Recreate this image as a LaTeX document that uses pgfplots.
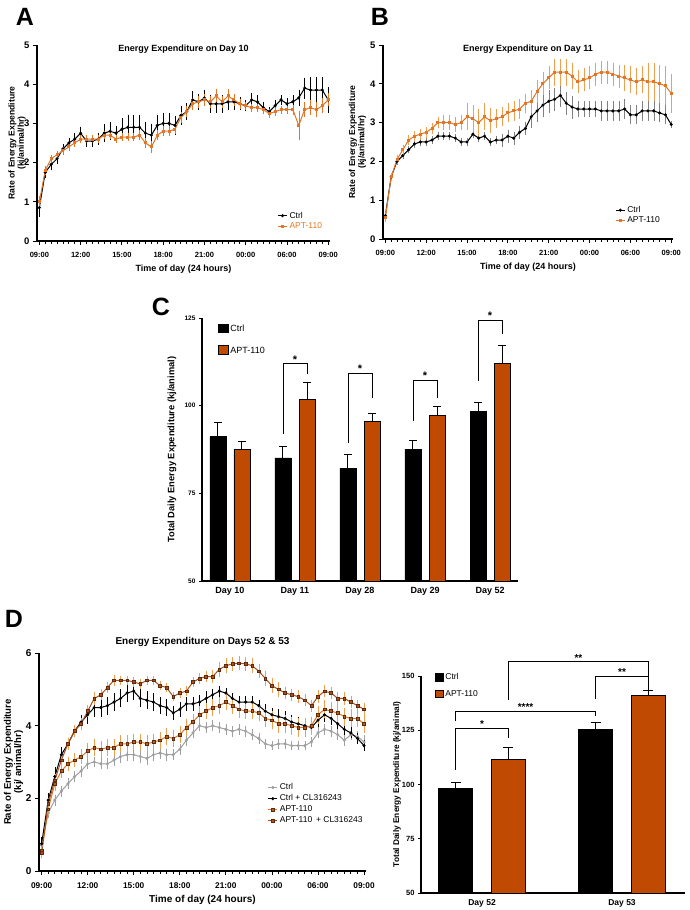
\documentclass[border=0pt]{standalone}
\usepackage{fontspec}
\setmainfont{Liberation Sans}
\usepackage{pgfplots}
\usepackage{pgfplotstable}
\pgfplotsset{compat=1.18}
\definecolor{aptline}{RGB}{226,118,38}
\definecolor{aptbar}{RGB}{192,74,2}
\definecolor{aptdark}{RGB}{95,42,12}
\definecolor{apterr}{RGB}{238,160,80}
\definecolor{ctrlgray}{RGB}{160,160,160}
\definecolor{apttwo}{RGB}{170,78,30}

\pgfplotstableread{
i cy ce ay ae
0 0.85 0.18 1.00 0.10
1 1.75 0.10 1.80 0.06
2 1.95 0.10 2.10 0.06
3 2.10 0.10 2.20 0.06
4 2.35 0.08 2.30 0.05
5 2.50 0.08 2.40 0.05
6 2.60 0.10 2.50 0.06
7 2.75 0.12 2.60 0.06
8 2.55 0.10 2.60 0.06
9 2.55 0.10 2.60 0.06
10 2.60 0.10 2.60 0.06
11 2.75 0.18 2.70 0.06
12 2.80 0.18 2.70 0.06
13 2.75 0.15 2.60 0.06
14 2.85 0.25 2.65 0.06
15 2.90 0.28 2.65 0.06
16 2.90 0.28 2.65 0.06
17 2.90 0.28 2.70 0.08
18 2.75 0.25 2.50 0.08
19 2.70 0.25 2.40 0.10
20 2.95 0.22 2.70 0.08
21 3.00 0.22 2.80 0.08
22 3.00 0.22 2.80 0.08
23 2.95 0.20 2.85 0.08
24 3.20 0.20 3.15 0.10
25 3.30 0.18 3.30 0.10
26 3.60 0.18 3.50 0.10
27 3.55 0.15 3.55 0.10
28 3.65 0.15 3.60 0.10
29 3.50 0.18 3.55 0.10
30 3.50 0.18 3.70 0.12
31 3.50 0.18 3.55 0.10
32 3.55 0.15 3.70 0.12
33 3.55 0.15 3.60 0.10
34 3.50 0.12 3.50 0.08
35 3.45 0.10 3.45 0.06
36 3.60 0.12 3.40 0.06
37 3.55 0.12 3.40 0.06
38 3.40 0.10 3.35 0.06
39 3.30 0.08 3.25 0.06
40 3.45 0.10 3.30 0.06
41 3.60 0.08 3.35 0.06
42 3.50 0.10 3.35 0.06
43 3.55 0.12 3.35 0.08
44 3.65 0.15 2.95 0.33
45 3.90 0.22 3.35 0.15
46 3.85 0.28 3.40 0.15
47 3.85 0.28 3.35 0.15
48 3.85 0.28 3.45 0.15
49 3.60 0.28 3.60 0.12
}\dA

\pgfplotstableread{
i cy ce ay ae
0 0.60 0.05 0.55 0.06
1 1.60 0.05 1.60 0.06
2 2.00 0.05 2.05 0.08
3 2.15 0.05 2.30 0.08
4 2.30 0.05 2.55 0.08
5 2.45 0.05 2.65 0.08
6 2.50 0.05 2.70 0.10
7 2.50 0.05 2.75 0.10
8 2.55 0.05 2.85 0.10
9 2.65 0.05 3.00 0.10
10 2.65 0.06 3.00 0.15
11 2.65 0.06 3.00 0.15
12 2.60 0.06 2.95 0.15
13 2.50 0.06 3.00 0.15
14 2.50 0.06 3.15 0.30
15 2.70 0.06 3.10 0.30
16 2.60 0.06 3.00 0.30
17 2.65 0.06 3.15 0.30
18 2.50 0.06 3.05 0.28
19 2.55 0.06 3.10 0.20
20 2.55 0.12 3.15 0.20
21 2.65 0.12 3.25 0.20
22 2.60 0.12 3.30 0.20
23 2.75 0.12 3.35 0.20
24 2.85 0.12 3.50 0.20
25 3.15 0.25 3.55 0.25
26 3.30 0.25 3.80 0.25
27 3.45 0.25 4.00 0.25
28 3.55 0.25 4.15 0.25
29 3.60 0.25 4.30 0.30
30 3.70 0.25 4.30 0.30
31 3.50 0.25 4.30 0.30
32 3.40 0.25 4.20 0.30
33 3.35 0.15 4.05 0.25
34 3.35 0.15 4.10 0.25
35 3.35 0.15 4.15 0.25
36 3.35 0.15 4.25 0.25
37 3.30 0.20 4.30 0.25
38 3.30 0.20 4.30 0.25
39 3.30 0.20 4.25 0.25
40 3.30 0.20 4.20 0.25
41 3.35 0.20 4.15 0.30
42 3.20 0.20 4.10 0.30
43 3.20 0.20 4.05 0.30
44 3.30 0.20 4.10 0.30
45 3.30 0.20 4.05 0.45
46 3.30 0.20 4.05 0.45
47 3.25 0.20 4.00 0.45
48 3.20 0.20 3.95 0.45
49 2.95 0.05 3.75 0.45
}\dB

\pgfplotstableread{
i gy ge ky ke ay ae by be
0 0.70 0.10 0.75 0.15 0.55 0.10 0.50 0.10
1 1.60 0.10 1.95 0.15 1.70 0.15 1.85 0.10
2 1.95 0.10 2.60 0.20 2.40 0.15 2.50 0.12
3 2.20 0.10 3.20 0.15 2.75 0.15 3.05 0.12
4 2.40 0.10 3.50 0.12 2.95 0.15 3.50 0.12
5 2.60 0.10 3.85 0.12 3.05 0.15 3.85 0.12
6 2.75 0.10 4.10 0.15 3.15 0.15 4.05 0.12
7 2.95 0.10 4.30 0.20 3.30 0.18 4.40 0.12
8 3.00 0.10 4.50 0.20 3.40 0.18 4.75 0.12
9 2.95 0.10 4.50 0.20 3.35 0.18 4.85 0.10
10 2.95 0.10 4.55 0.20 3.40 0.18 5.05 0.10
11 3.05 0.10 4.65 0.20 3.40 0.18 5.25 0.10
12 3.15 0.12 4.75 0.20 3.50 0.18 5.25 0.08
13 3.20 0.12 4.90 0.20 3.50 0.18 5.25 0.08
14 3.20 0.12 4.95 0.20 3.55 0.18 5.20 0.08
15 3.15 0.12 4.75 0.20 3.55 0.18 5.15 0.08
16 3.10 0.12 4.70 0.20 3.50 0.18 5.25 0.08
17 3.20 0.12 4.65 0.20 3.55 0.18 5.25 0.08
18 3.25 0.12 4.55 0.18 3.60 0.18 5.10 0.08
19 3.20 0.12 4.50 0.18 3.70 0.18 5.05 0.08
20 3.20 0.10 4.35 0.15 3.65 0.18 4.80 0.08
21 3.35 0.10 4.45 0.15 3.75 0.18 4.90 0.08
22 3.60 0.10 4.60 0.15 3.95 0.18 4.95 0.08
23 3.80 0.10 4.60 0.15 4.10 0.18 5.20 0.08
24 4.00 0.10 4.65 0.15 4.30 0.18 5.30 0.10
25 3.95 0.10 4.75 0.15 4.40 0.18 5.35 0.10
26 4.00 0.10 4.85 0.12 4.50 0.18 5.35 0.12
27 3.95 0.10 4.95 0.10 4.55 0.18 5.55 0.15
28 3.90 0.10 4.90 0.10 4.65 0.18 5.65 0.15
29 3.85 0.10 4.75 0.10 4.55 0.18 5.70 0.15
30 3.90 0.10 4.65 0.12 4.45 0.18 5.72 0.15
31 3.85 0.10 4.65 0.12 4.40 0.18 5.70 0.15
32 3.75 0.10 4.65 0.12 4.40 0.18 5.65 0.15
33 3.65 0.10 4.55 0.12 4.35 0.18 5.50 0.15
34 3.50 0.08 4.40 0.15 4.20 0.20 5.30 0.15
35 3.45 0.08 4.30 0.15 4.15 0.20 5.10 0.15
36 3.50 0.08 4.25 0.15 4.05 0.20 5.00 0.15
37 3.50 0.08 4.20 0.15 4.05 0.20 4.90 0.12
38 3.45 0.08 4.10 0.15 4.00 0.20 4.85 0.12
39 3.45 0.08 4.05 0.15 3.95 0.20 4.80 0.12
40 3.45 0.08 4.00 0.15 3.95 0.20 4.70 0.12
41 3.55 0.08 3.95 0.15 4.00 0.20 4.55 0.12
42 3.80 0.10 4.15 0.15 4.30 0.20 4.80 0.12
43 3.90 0.10 4.30 0.15 4.45 0.20 4.95 0.12
44 3.85 0.10 4.20 0.12 4.40 0.20 4.90 0.12
45 3.75 0.10 4.05 0.10 4.35 0.20 4.75 0.12
46 3.60 0.10 3.90 0.10 4.25 0.20 4.75 0.12
47 3.75 0.10 3.80 0.10 4.20 0.20 4.65 0.12
48 3.70 0.10 3.65 0.10 4.20 0.20 4.55 0.12
49 3.55 0.15 3.45 0.10 4.05 0.20 4.45 0.12
}\dD

\pgfplotsset{
  legend image code/.code={\draw[mark repeat=2,mark phase=2,#1] plot coordinates {(0pt,0pt) (4.5pt,0pt) (9pt,0pt)};},
  tsax/.style={
    scale only axis, axis lines=left, axis line style={-, line width=1.1pt},
    xmin=-0.4, xmax=49.3, ymin=0,
    xtick={0,7,14,21,28,35,42,49},
    xticklabels={09:00,12:00,15:00,18:00,21:00,00:00,06:00,09:00},
    minor xtick={0,...,49},
    tick align=outside, major tick length=4pt, minor tick length=3pt,
    tick style={black, line width=0.8pt},
    xticklabel style={font=\bfseries\fontsize{7.5}{8}\selectfont, yshift=-4pt},
    yticklabel style={font=\bfseries\fontsize{9.5}{10}\selectfont},
    /pgf/number format/assume math mode=true,
    xlabel={Time of day (24 hours)},
    xlabel style={font=\bfseries\fontsize{9}{10}\selectfont},
    ylabel style={font=\bfseries\fontsize{8.6}{9.2}\selectfont, align=center, anchor=center},
    title style={font=\bfseries\fontsize{9}{10}\selectfont},
    clip=false, legend cell align=left,
  },
  barax/.style={
    scale only axis, axis lines=left, axis line style={-, line width=1.1pt},
    tick align=outside, major tick length=3pt,
    x tick style={draw=none}, y tick style={black, line width=0.8pt},
    /pgf/number format/assume math mode=true,
    clip mode=individual, legend cell align=left,
  },
  cbar/.style={ybar, bar shift=0pt, draw=black, line width=0.8pt,
    error bars/.cd, y dir=plus, y explicit, error bar style={black, line width=1pt},
    error mark options={black, rotate=90, mark size=#1, line width=1pt}},
}

\begin{document}
\begin{tikzpicture}
\path[use as bounding box] (0pt,0pt) rectangle (689pt,910pt);

% ---------- A ----------
\begin{axis}[tsax, at={(37pt,669pt)}, anchor=south west, width=293pt, height=196pt,
  ymax=5, ytick={0,1,2,3,4,5},
  title={Energy Expenditure on Day 10}, title style={at={(0.5,0.985)}, anchor=center, yshift=-7pt},
  ylabel={Rate of Energy Expenditure\\(kj/animal/hr)},
  ylabel style={at={(rel axis cs:-0.068,0.5)}},
  legend style={draw=none, fill=none, at={(0.81,0.17)}, anchor=north west,
    font=\fontsize{8.5}{9}\selectfont, row sep=-1pt}]
\addplot[black, line width=1pt, mark=*, mark size=1pt,
  error bars/.cd, y dir=both, y explicit, error bar style={black, line width=0.5pt},
  error mark options={black, mark size=1.8pt, line width=0.5pt}]
  table[x=i, y=cy, y error=ce] {\dA};
\addlegendentry{Ctrl}
\addplot[aptline, line width=1pt, mark=square*, mark size=1pt,
  error bars/.cd, y dir=both, y explicit, error bar style={aptline, line width=0.5pt},
  error mark options={aptline, mark size=1.8pt, line width=0.5pt}]
  table[x=i, y=ay, y error=ae] {\dA};
\addlegendentry{\textcolor{aptline}{APT-110}}
\end{axis}

% ---------- B ----------
\begin{axis}[tsax, at={(383pt,671pt)}, anchor=south west, width=290pt, height=194pt,
  ymax=5, ytick={0,1,2,3,4,5},
  title={Energy Expenditure on Day 11}, title style={at={(0.5,0.985)}, anchor=center, yshift=-7pt},
  ylabel={Rate of Energy Expenditure\\(kj/animal/hr)},
  ylabel style={at={(rel axis cs:-0.088,0.5)}},
  legend style={draw=none, fill=none, at={(0.79,0.19)}, anchor=north west,
    font=\fontsize{8.5}{9}\selectfont, row sep=-1pt}]
\addplot[black, line width=1pt, mark=*, mark size=1pt,
  error bars/.cd, y dir=both, y explicit, error bar style={gray, line width=0.4pt},
  error mark options={gray, mark size=1.8pt, line width=0.4pt}]
  table[x=i, y=cy, y error=ce] {\dB};
\addlegendentry{Ctrl}
\addplot[aptline, line width=1pt, mark=square*, mark size=1pt,
  error bars/.cd, y dir=both, y explicit, error bar style={apterr, line width=0.4pt},
  error mark options={apterr, mark size=1.8pt, line width=0.4pt}]
  table[x=i, y=ay, y error=ae] {\dB};
\addlegendentry{APT-110}
\end{axis}

% ---------- C ----------
\begin{axis}[barax, at={(202pt,329pt)}, anchor=south west, width=316pt, height=263pt,
  xmin=-0.43, xmax=4.43, ymin=50, ymax=125,
  xtick={0,1,2,3,4}, xticklabels={Day 10,Day 11,Day 28,Day 29,Day 52},
  ytick={50,75,100,125},
  xticklabel style={font=\bfseries\fontsize{9}{10}\selectfont},
  yticklabel style={font=\bfseries\fontsize{6.5}{7}\selectfont},
  ylabel={Total Daily Energy Expenditure (kj/animal)},
  ylabel style={font=\bfseries\fontsize{9.3}{10}\selectfont, at={(rel axis cs:-0.095,0.5)}, anchor=center},
  legend style={draw=none, fill=none, at={(0.04,0.99)}, anchor=north west,
    font=\fontsize{9}{10}\selectfont, row sep=10pt}]
\addlegendimage{legend image code/.code={\draw[fill=black,draw=black] (0pt,-3.5pt) rectangle (10pt,5pt);}}
\addlegendentry{Ctrl}
\addlegendimage{legend image code/.code={\draw[fill=aptbar,draw=black,line width=0.6pt] (0pt,-3.5pt) rectangle (10pt,5pt);}}
\addlegendentry{APT-110}
\addplot[bar width=16pt, fill=black, cbar=4pt]
  coordinates {(-0.185,91.1) +- (0,4.1) (0.815,85.1) +- (0,3.3) (1.815,82.2) +- (0,3.8) (2.815,87.6) +- (0,2.5) (3.815,98.3) +- (0,2.7)};
\addplot[bar width=16pt, fill=aptbar, cbar=4pt]
  coordinates {(0.185,87.5) +- (0,2.2) (1.185,101.9) +- (0,4.8) (2.185,95.5) +- (0,2.2) (3.185,97.2) +- (0,2.7) (4.185,112.0) +- (0,5.1)};
\draw[line width=0.9pt] (axis cs:0.815,92) |- (axis cs:1.185,111.9) -- (axis cs:1.185,109.1);
\draw[line width=0.9pt] (axis cs:1.815,89.4) |- (axis cs:2.185,109.3) -- (axis cs:2.185,102.2);
\draw[line width=0.9pt] (axis cs:2.815,95.5) |- (axis cs:3.185,107.2) -- (axis cs:3.185,102.2);
\draw[line width=0.9pt] (axis cs:3.815,107) |- (axis cs:4.185,124.3) -- (axis cs:4.185,120.5);
\node[anchor=base, inner sep=0pt, font=\bfseries\fontsize{11}{11}\selectfont] at (axis cs:1,112.1) {*};
\node[anchor=base, inner sep=0pt, font=\bfseries\fontsize{11}{11}\selectfont] at (axis cs:2,109.5) {*};
\node[anchor=base, inner sep=0pt, font=\bfseries\fontsize{11}{11}\selectfont] at (axis cs:3,107.4) {*};
\node[anchor=base, inner sep=0pt, font=\bfseries\fontsize{11}{11}\selectfont] at (axis cs:4,124.5) {*};
\end{axis}

% ---------- D left ----------
\begin{axis}[tsax, at={(39pt,39pt)}, anchor=south west, width=327pt, height=218pt,
  ymax=6, ytick={0,2,4,6},
  title={Energy Expenditure on Days 52 \& 53}, title style={at={(0.5,1)}, anchor=center, yshift=5pt, font=\bfseries\fontsize{10}{11}\selectfont},
  ylabel={Rate of Energy Expenditure\\(kj/ animal/hr)},
  ylabel style={font=\bfseries\fontsize{9.6}{10.2}\selectfont, at={(rel axis cs:-0.078,0.5)}},
  xlabel style={font=\bfseries\fontsize{10}{11}\selectfont},
  xticklabel style={font=\bfseries\fontsize{8.3}{9}\selectfont},
  yticklabel style={font=\bfseries\fontsize{10}{11}\selectfont},
  legend style={draw=none, fill=none, at={(0.69,0.42)}, anchor=north west,
    font=\fontsize{8.5}{9}\selectfont, row sep=-0.5pt}]
\addplot[ctrlgray, line width=1pt, mark=*, mark size=1pt,
  error bars/.cd, y dir=both, y explicit, error bar style={ctrlgray, line width=0.5pt},
  error mark options={ctrlgray, mark size=1.8pt, line width=0.5pt}]
  table[x=i, y=gy, y error=ge] {\dD};
\addlegendentry{Ctrl}
\addplot[black, line width=1pt, mark=*, mark size=1pt,
  error bars/.cd, y dir=both, y explicit, error bar style={black, line width=0.5pt},
  error mark options={black, mark size=1.8pt, line width=0.5pt}]
  table[x=i, y=ky, y error=ke] {\dD};
\addlegendentry{Ctrl + CL316243}
\addplot[aptline, line width=1pt, mark=square*, mark size=1.4pt, mark options={fill=aptline!80!black, draw=aptdark, line width=0.5pt},
  error bars/.cd, y dir=both, y explicit, error bar style={apterr, line width=0.5pt},
  error mark options={apterr, mark size=1.8pt, line width=0.5pt}]
  table[x=i, y=ay, y error=ae] {\dD};
\addlegendentry{APT-110}
\addplot[apttwo, line width=1pt, mark=square*, mark size=1.4pt, mark options={fill=apttwo, draw=aptdark, line width=0.5pt},
  error bars/.cd, y dir=both, y explicit, error bar style={apterr, line width=0.5pt},
  error mark options={apterr, mark size=1.8pt, line width=0.5pt}]
  table[x=i, y=by, y error=be] {\dD};
\addlegendentry{APT-110 \,+ CL316243}
\end{axis}

% ---------- D right ----------
\begin{axis}[barax, at={(421pt,17pt)}, anchor=south west, width=264pt, height=217pt,
  xmin=-0.436, xmax=1.45, ymin=50, ymax=150,
  xtick={0,1}, xticklabels={Day 52,Day 53},
  ytick={50,75,100,125,150},
  xticklabel style={font=\bfseries\fontsize{8.5}{9}\selectfont},
  yticklabel style={font=\bfseries\fontsize{7.5}{8}\selectfont},
  ylabel={Total Daily Energy Expenditure (kj/animal)},
  ylabel style={font=\bfseries\fontsize{8.3}{9}\selectfont, at={(rel axis cs:-0.091,0.5)}, anchor=center},
  legend style={draw=none, fill=none, at={(0.04,1.03)}, anchor=north west,
    font=\fontsize{8.5}{9}\selectfont, row sep=5pt}]
\addlegendimage{legend image code/.code={\draw[fill=black,draw=black] (0pt,-3.5pt) rectangle (8pt,4pt);}}
\addlegendentry{Ctrl}
\addlegendimage{legend image code/.code={\draw[fill=aptbar,draw=black,line width=0.6pt] (0pt,-3.5pt) rectangle (8pt,4pt);}}
\addlegendentry{APT-110}
\addplot[bar width=34pt, fill=black, cbar=5pt]
  coordinates {(-0.189,98.2) +- (0,2.7) (0.811,125.4) +- (0,3.2)};
\addplot[bar width=34pt, fill=aptbar, cbar=5pt]
  coordinates {(0.189,111.7) +- (0,5.4) (1.189,140.9) +- (0,2.6)};
\draw[line width=0.9pt] (axis cs:-0.189,106.6) |- (axis cs:0.189,125.8) -- (axis cs:0.189,121.5);
\draw[line width=0.9pt] (axis cs:-0.189,129.2) |- (axis cs:0.811,133.8) -- (axis cs:0.811,131.5);
\draw[line width=0.9pt] (axis cs:0.811,139.4) |- (axis cs:1.189,149.8) -- (axis cs:1.189,143.2);
\draw[line width=0.9pt] (axis cs:0.189,138.9) |- (axis cs:1.189,156.6) -- (axis cs:1.189,143.2);
\node[anchor=base, inner sep=0pt, font=\bfseries\fontsize{10}{10}\selectfont] at (axis cs:0,126.1) {*};
\node[anchor=base, inner sep=0pt, font=\bfseries\fontsize{10}{10}\selectfont] at (axis cs:0.311,134.1) {****};
\node[anchor=base, inner sep=0pt, font=\bfseries\fontsize{10}{10}\selectfont] at (axis cs:1,150.1) {**};
\node[anchor=base, inner sep=0pt, font=\bfseries\fontsize{10}{10}\selectfont] at (axis cs:0.689,156.9) {**};
\end{axis}

% panel letters
\node[font=\bfseries\fontsize{25}{25}\selectfont] at (25pt,893pt) {A};
\node[font=\bfseries\fontsize{25}{25}\selectfont] at (380pt,893pt) {B};
\node[font=\bfseries\fontsize{25}{25}\selectfont] at (161pt,603pt) {C};
\node[font=\bfseries\fontsize{25}{25}\selectfont] at (14pt,291pt) {D};
\end{tikzpicture}
\end{document}
